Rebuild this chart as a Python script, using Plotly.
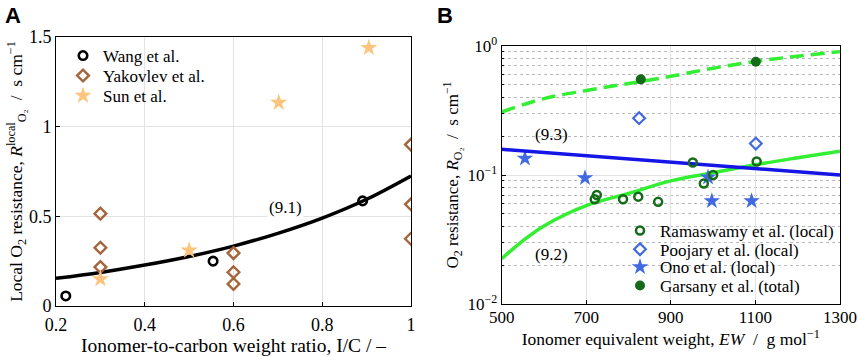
import plotly.graph_objects as go

# ---------------- Panel A data ----------------
wang_x = [0.222, 0.554, 0.891]
wang_y = [0.056, 0.25, 0.586]
yak_x = [0.3, 0.3, 0.3, 0.6, 0.6, 0.6, 1.0, 1.0, 1.0]
yak_y = [0.515, 0.325, 0.217, 0.295, 0.188, 0.123, 0.90, 0.567, 0.375]
sun_x = [0.3, 0.5, 0.702, 0.905]
sun_y = [0.15, 0.31, 1.134, 1.44]
fitA_x = [0.2, 0.3, 0.4, 0.5, 0.6, 0.7, 0.8, 0.9, 1.0]
fitA_y = [0.154, 0.187, 0.228, 0.276, 0.334, 0.405, 0.49, 0.595, 0.725]
xA_ticks = [0.2, 0.4, 0.6, 0.8, 1.0]
xA_ticktext = ["0.2", "0.4", "0.6", "0.8", "1"]
yA_ticks = [0, 0.5, 1, 1.5]
yA_ticktext = ["0", "0.5", "1", "1.5"]

# ---------------- Panel B data ----------------
ram_x = [720, 725, 787, 823, 870, 952, 978, 1000, 1103]
ram_y = [0.065, 0.070, 0.065, 0.068, 0.062, 0.125, 0.086, 0.100, 0.127]
poo_x = [825, 1101]
poo_y = [0.275, 0.175]
ono_x = [555, 697, 988, 997, 1091]
ono_y = [0.1345, 0.095, 0.096, 0.063, 0.063]
gar_x = [829, 1101]
gar_y = [0.549, 0.751]
blue_x = [500, 900, 1300]
blue_y = [0.158, 0.126, 0.100]
green_x = [500, 550, 600, 700, 800, 900, 1000, 1100, 1200, 1300]
green_y = [0.0225, 0.031, 0.0404, 0.058, 0.072, 0.09, 0.104, 0.12, 0.136, 0.153]
dash_x = [500, 600, 700, 800, 900, 1000, 1100, 1200, 1300]
dash_y = [0.307, 0.39, 0.45, 0.51, 0.58, 0.67, 0.755, 0.83, 0.9]
xB_ticks = [500, 700, 900, 1100, 1300]
yB_ticks = [0.01, 0.1, 1]
yB_ticktext = ["10<sup>−2</sup>", "10<sup>−1</sup>", "10<sup>0</sup>"]

FONT = "Liberation Serif"
BROWN = "#a5643a"
ORANGE = "#fcc47c"
DGREEN = "#156b1a"
RBLUE = "#4169e1"
LGREEN = "#33ee33"
W, H = 858, 357

fig = go.Figure()

# Panel A
fig.add_trace(go.Scatter(x=fitA_x, y=fitA_y, mode="lines", line=dict(color="black", width=3.5, shape="spline"),
                         showlegend=False, xaxis="x", yaxis="y"))
fig.add_trace(go.Scatter(x=wang_x, y=wang_y, mode="markers", name="Wang et al.",
                         marker=dict(symbol="circle-open", size=8.5, color="black", line=dict(width=2.6)),
                         xaxis="x", yaxis="y", legend="legend"))
fig.add_trace(go.Scatter(x=yak_x, y=yak_y, mode="markers", name="Yakovlev et al.",
                         marker=dict(symbol="diamond-open", size=9, color=BROWN, line=dict(width=2.4)),
                         xaxis="x", yaxis="y", legend="legend2"))
fig.add_trace(go.Scatter(x=sun_x, y=sun_y, mode="markers", name="Sun et al.",
                         marker=dict(symbol="star", size=13, color=ORANGE, line=dict(width=0)),
                         xaxis="x", yaxis="y", legend="legend3"))

# Panel B
fig.add_trace(go.Scatter(x=dash_x, y=dash_y, mode="lines", line=dict(color=LGREEN, width=3.5, dash="14px,7px", shape="spline"),
                         showlegend=False, xaxis="x2", yaxis="y2"))
fig.add_trace(go.Scatter(x=green_x, y=green_y, mode="lines", line=dict(color=LGREEN, width=3.5, shape="spline"),
                         showlegend=False, xaxis="x2", yaxis="y2"))
fig.add_trace(go.Scatter(x=ono_x, y=ono_y, mode="markers", name="Ono et al. (local)",
                         marker=dict(symbol="star", size=12.5, color=RBLUE, line=dict(width=0)),
                         xaxis="x2", yaxis="y2", legend="legend6"))
fig.add_trace(go.Scatter(x=blue_x, y=blue_y, mode="lines", line=dict(color="#1515e8", width=3.5),
                         showlegend=False, xaxis="x2", yaxis="y2"))
fig.add_trace(go.Scatter(x=ram_x, y=ram_y, mode="markers", name="Ramaswamy et al. (local)",
                         marker=dict(symbol="circle-open", size=8, color=DGREEN, line=dict(width=2.5)),
                         xaxis="x2", yaxis="y2", legend="legend4"))
fig.add_trace(go.Scatter(x=poo_x, y=poo_y, mode="markers", name="Poojary et al. (local)",
                         marker=dict(symbol="diamond-open", size=9, color=RBLUE, line=dict(width=2.2)),
                         xaxis="x2", yaxis="y2", legend="legend5"))
fig.add_trace(go.Scatter(x=gar_x, y=gar_y, mode="markers", name="Garsany et al. (total)",
                         marker=dict(symbol="circle", size=10, color=DGREEN),
                         xaxis="x2", yaxis="y2", legend="legend7"))

axis_common = dict(showline=True, mirror=True, linecolor="black", linewidth=1,
                   ticks="inside", ticklen=4, tickcolor="black",
                   zeroline=False, automargin=False)


def leg(px, py):
    return dict(x=px / W, y=1 - py / H, xanchor="left", yanchor="middle", bgcolor="rgba(0,0,0,0)",
                borderwidth=0, font=dict(family=FONT, size=17, color="black"), itemwidth=30)


fig.update_layout(
    width=W, height=H,
    margin=dict(l=0, r=0, t=0, b=0),
    paper_bgcolor="white", plot_bgcolor="white",
    font=dict(family=FONT, size=17, color="black"),
    xaxis=dict(domain=[0.0653, 0.479], anchor="y", range=[0.2, 1.0], tickvals=xA_ticks, ticktext=xA_ticktext,
               showgrid=True, gridcolor="#e3e3e3", gridwidth=1,
               tickfont=dict(family=FONT, size=18, color="black"), ticklabelstandoff=2,
               title=dict(text="Ionomer-to-carbon weight ratio, I/C / –", font=dict(family=FONT, size=19.5), standoff=4),
               **axis_common),
    yaxis=dict(domain=[0.1429, 0.8964], anchor="x", range=[0, 1.5], tickvals=yA_ticks, ticktext=yA_ticktext,
               showgrid=True, gridcolor="#e3e3e3", gridwidth=1,
               tickfont=dict(family=FONT, size=18, color="black"),
               title=dict(text="Local O<sub>2</sub> resistance, <i>R</i><sup>local</sup><sub>O₂</sub>  /  s cm<sup>−1</sup>",
                          font=dict(family=FONT, size=17.5), standoff=0),
               **axis_common),
    xaxis2=dict(domain=[0.5847, 0.979], anchor="y2", range=[500, 1300], tickvals=xB_ticks,
                showgrid=True, gridcolor="#e3e3e3", gridwidth=1,
                tickfont=dict(family=FONT, size=17, color="black"), ticklabelstandoff=-3,
                title=dict(text="Ionomer equivalent weight, <i>EW</i>  /  g mol<sup>−1</sup>", font=dict(family=FONT, size=17.5), standoff=7),
                **axis_common),
    yaxis2=dict(domain=[0.1476, 0.872], anchor="x2", type="log", range=[-2, 0], tickvals=yB_ticks, ticktext=yB_ticktext,
                showgrid=True, gridcolor="#e3e3e3", gridwidth=1,
                tickfont=dict(family=FONT, size=17, color="black"),
                minor=dict(dtick="D1", ticks="inside", ticklen=2, tickcolor="black", showgrid=True,
                           griddash="dot", gridcolor="#b8b8b8", gridwidth=1),
                title=dict(text="O<sub>2</sub> resistance, <i>R</i><sub>O₂</sub>  /  s cm<sup>−1</sup>",
                           font=dict(family=FONT, size=17), standoff=4),
                **axis_common),
    legend=leg(63, 56),
    legend2=leg(63, 76),
    legend3=leg(63, 96),
    legend4=leg(620, 231),
    legend5=leg(620, 249.7),
    legend6=leg(620, 267.3),
    legend7=leg(620, 286),
    shapes=[
        # white background of the panel-B legend (hides the grid behind it)
        dict(type="rect", xref="paper", yref="paper", layer="between",
             x0=627 / W, x1=839 / W, y0=1 - 300 / H, y1=1 - 219 / H,
             fillcolor="white", line=dict(width=0)),
    ],
    annotations=[
        dict(text="<b>A</b>", x=0.004, y=0.998, xref="paper", yref="paper", xanchor="left", yanchor="top",
             showarrow=False, font=dict(family="Liberation Sans", size=22, color="black")),
        dict(text="<b>B</b>", x=0.507, y=0.998, xref="paper", yref="paper", xanchor="left", yanchor="top",
             showarrow=False, font=dict(family="Liberation Sans", size=22, color="black")),
        dict(text="(9.1)", x=0.718, y=0.55, xref="x", yref="y", showarrow=False, bgcolor="white",
             font=dict(family=FONT, size=17, color="black")),
        dict(text="(9.3)", x=618, y=-0.685, xref="x2", yref="y2", showarrow=False,
             font=dict(family=FONT, size=17, color="black")),
        dict(text="(9.2)", x=618, y=-1.613, xref="x2", yref="y2", showarrow=False,
             font=dict(family=FONT, size=17, color="black")),
    ],
)

fig.write_html("out.html", config={"displayModeBar": False},
               post_script="document.body.style.margin='0';")
